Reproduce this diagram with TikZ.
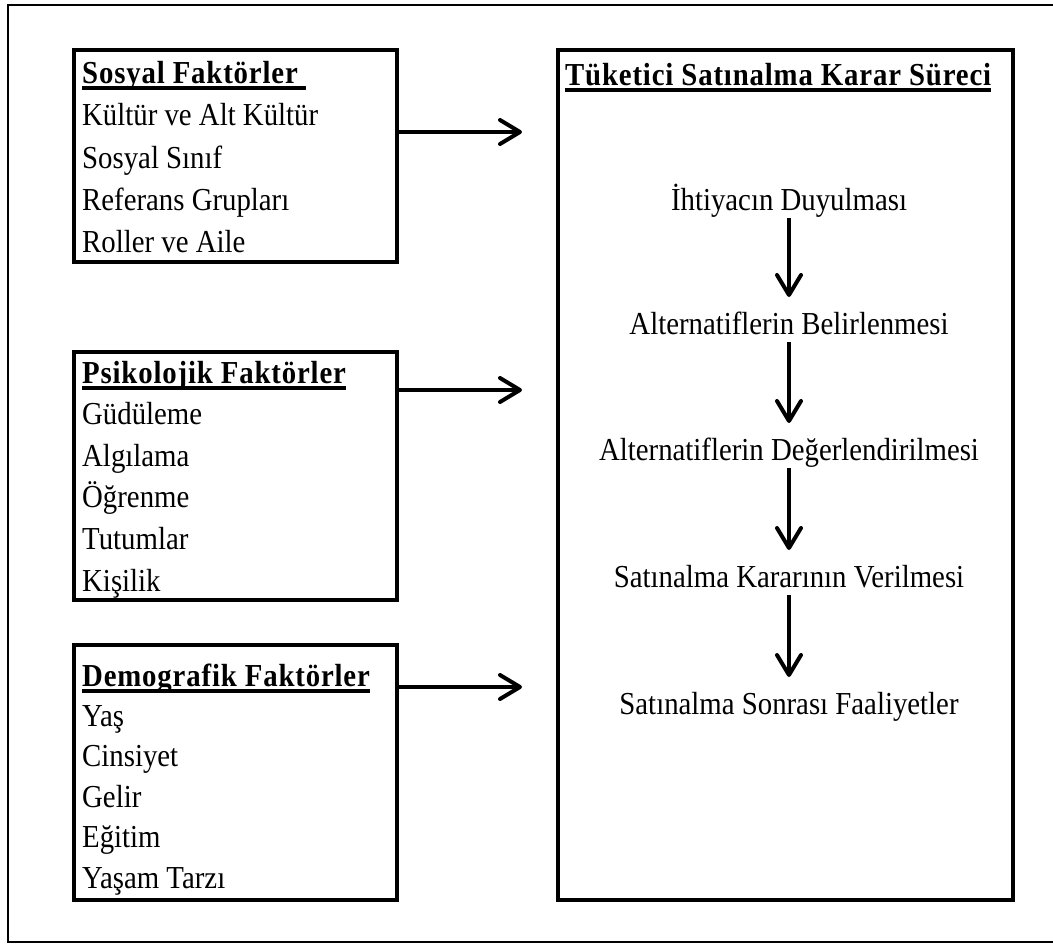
\documentclass[tikz,border=0pt]{standalone}
\usepackage{fontspec}
\setmainfont[FakeStretch=0.9]{Liberation Serif}
\newfontfamily\headfont[FakeStretch=0.9,LetterSpace=2.6]{Liberation Serif}
\usetikzlibrary{arrows.meta}
\begin{document}
\begin{tikzpicture}[x=1pt,y=-1pt,
  panel/.style={draw, line width=4pt, rectangle, inner sep=0pt},
  item/.style={anchor=base west, inner sep=0pt, font=\fontsize{32}{34}\selectfont},
  head/.style={anchor=base west, inner sep=0pt, font=\fontsize{32}{34}\headfont\bfseries},
  stage/.style={anchor=base, inner sep=0pt, font=\fontsize{32}{34}\selectfont},
  uline/.style={line width=3.5pt},
  flow/.style={line width=4pt, -{Straight Barb[length=20pt,width=24pt,round]}}
]
\clip (0,0) rectangle (1053,945);
\fill[white] (0,0) rectangle (1053,945);
% outer frame (its right side runs off the page)
\draw[line width=2pt] (1070,5) -- (8,5) -- (8,942) -- (1070,942);

% factor panels
\node[panel, minimum width=323pt, minimum height=212pt] (soc) at (235.5,156) {};
\node[panel, minimum width=323pt, minimum height=248pt] (psy) at (235.5,476) {};
\node[panel, minimum width=323pt, minimum height=255pt] (dem) at (235.5,772.5) {};
% decision process panel
\node[panel, minimum width=455pt, minimum height=850pt] (proc) at (785.5,475) {};

% social factors
\node[head] (socT) at (82,83) {Sosyal Faktörler};
\draw[uline] ([yshift=-5pt]socT.base west) -- ([yshift=-5pt,xshift=8pt]socT.base east);
\node[item] (soc1) at (82,125) {Kültür ve Alt Kültür};
\node[item] (soc2) at (82,168) {Sosyal Sınıf};
\node[item] (soc3) at (82,210) {Referans Grupları};
\node[item] (soc4) at (82,252) {Roller ve Aile};

% psychological factors
\node[head] (psyT) at (82,383) {Psikolojik Faktörler};
\draw[uline] ([yshift=-5pt]psyT.base west) -- ([yshift=-5pt]psyT.base east);
\node[item] (psy1) at (82,424.6) {Güdüleme};
\node[item] (psy2) at (82,466.2) {Algılama};
\node[item] (psy3) at (82,507.8) {Öğrenme};
\node[item] (psy4) at (82,549.4) {Tutumlar};
\node[item] (psy5) at (82,591) {Kişilik};

% demographic factors
\node[head] (demT) at (82,686) {Demografik Faktörler};
\draw[uline] ([yshift=-5pt]demT.base west) -- ([yshift=-5pt]demT.base east);
\node[item] (dem1) at (82,726.4) {Yaş};
\node[item] (dem2) at (82,766.8) {Cinsiyet};
\node[item] (dem3) at (82,807.2) {Gelir};
\node[item] (dem4) at (82,847.6) {Eğitim};
\node[item] (dem5) at (82,888) {Yaşam Tarzı};

% decision process
\node[head] (procT) at (565,85) {Tüketici Satınalma Karar Süreci};
\draw[uline] ([yshift=-5pt]procT.base west) -- ([yshift=-5pt]procT.base east);
\node[stage] (s1) at (789,210) {İhtiyacın Duyulması};
\node[stage] (s2) at (789,334) {Alternatiflerin Belirlenmesi};
\node[stage] (s3) at (789,460) {Alternatiflerin Değerlendirilmesi};
\node[stage] (s4) at (789,587) {Satınalma Kararının Verilmesi};
\node[stage] (s5) at (789,714) {Satınalma Sonrası Faaliyetler};

\draw[flow] ([yshift=-8pt]s1.base) -- ([yshift=37pt]s2.base);
\draw[flow] ([yshift=-8pt]s2.base) -- ([yshift=37pt]s3.base);
\draw[flow] ([yshift=-8pt]s3.base) -- ([yshift=37pt]s4.base);
\draw[flow] ([yshift=-8pt]s4.base) -- ([yshift=37pt]s5.base);

% influences of the factor groups on the process
\coordinate (a1) at (522,132);
\coordinate (a2) at (522,390);
\coordinate (a3) at (522,687);
\draw[flow] (soc.east |- a1) -- (a1);
\draw[flow] (psy.east |- a2) -- (a2);
\draw[flow] (dem.east |- a3) -- (a3);
\end{tikzpicture}
\end{document}
